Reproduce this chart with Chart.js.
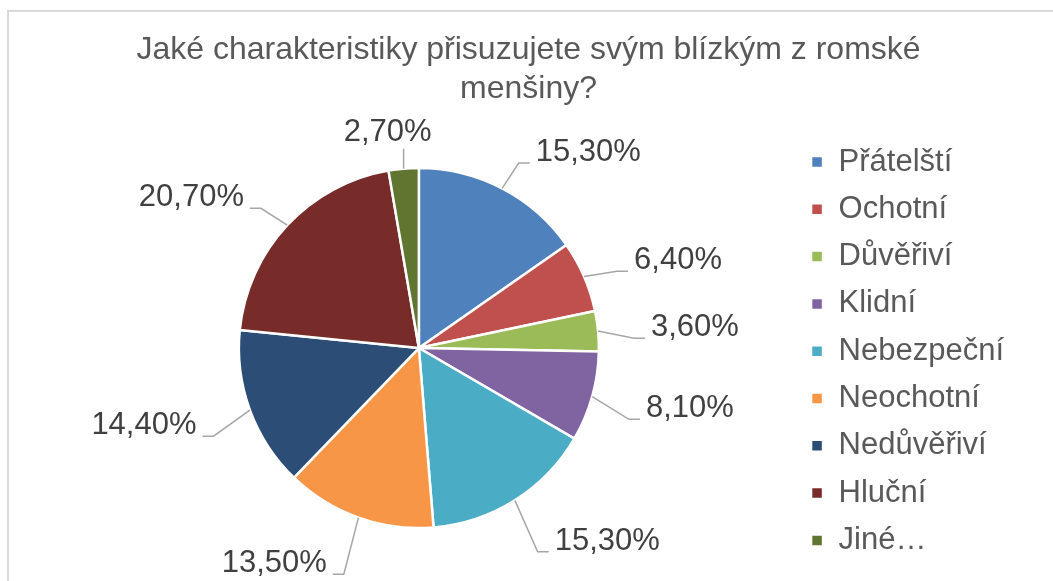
<!DOCTYPE html>
<html>
<head>
<meta charset="utf-8">
<script src="https://cdn.jsdelivr.net/npm/chart.js@4"></script>
<style>
  body { margin: 0; background: #fff; }
  #wrap { position: relative; width: 1053px; height: 581px; overflow: hidden; }
  #frame { position: absolute; left: 7px; top: 10px; width: 1060px; height: 600px;
           border-left: 2px solid #d9d9d9; border-top: 2px solid #d9d9d9; }
  #myChart { position: absolute; left: 0; top: 0; }
</style>
</head>
<body>
<div id="wrap">
  <div id="frame"></div>
  <canvas id="myChart" width="1053" height="581"></canvas>
</div>
<script>
// data
let categories = ['Přátelští', 'Ochotní', 'Důvěřiví', 'Klidní', 'Nebezpeční', 'Neochotní', 'Nedůvěřiví', 'Hluční', 'Jiné…'];
let share_values = [15.3, 6.4, 3.6, 8.1, 15.3, 13.5, 14.4, 20.7, 2.7];   // %
let slice_colors = ['#4F81BD', '#C0504D', '#9BBB59', '#8064A2', '#4BACC6', '#F79646', '#2C4D75', '#772C2A', '#5F7530'];
let title_lines = ['Jaké charakteristiky přisuzujete svým blízkým z romské', 'menšiny?'];

const FONT = "'Liberation Sans', Arial, sans-serif";

// popisky s vodici carou (Excel styl)
const leaderLabels = {
    id: 'leaderLabels',
    afterDatasetsDraw(chart) {
        const ctx = chart.ctx;
        const meta = chart.getDatasetMeta(0);
        const values = chart.data.datasets[0].data;
        ctx.save();
        ctx.font = '31px ' + FONT;
        ctx.fillStyle = '#404040';
        ctx.strokeStyle = '#a6a6a6';
        ctx.lineWidth = 1.5;
        meta.data.forEach((arc, i) => {
            const p = arc.getProps(['x', 'y', 'startAngle', 'endAngle', 'outerRadius'], true);
            const mid = (p.startAngle + p.endAngle) / 2;
            const cos = Math.cos(mid), sin = Math.sin(mid);
            const ex = p.x + cos * p.outerRadius;
            const ey = p.y + sin * p.outerRadius;
            const text = values[i].toFixed(2).replace('.', ',') + '%';
            if (Math.abs(cos) < 0.15) {     // skoro svisle -> popisek nad/pod
                const dir = sin < 0 ? -1 : 1;
                const ly = ey + dir * 20;
                ctx.beginPath();
                ctx.moveTo(ex, ey);
                ctx.lineTo(ex, ly);
                ctx.stroke();
                ctx.textAlign = 'center';
                ctx.textBaseline = 'middle';
                ctx.fillText(text, ex - 16, ly + dir * 16);
            } else {
                const off = 36 + 8 * Math.max(0, sin);
                const ox = p.x + cos * (p.outerRadius + off);
                const oy = p.y + sin * (p.outerRadius + off) + 11 + 5 * sin;
                const side = cos > 0 ? 1 : -1;
                ctx.beginPath();
                ctx.moveTo(ex, ey);
                ctx.lineTo(ox, oy);
                ctx.lineTo(ox + side * 11, oy);
                ctx.stroke();
                ctx.textAlign = side > 0 ? 'left' : 'right';
                ctx.textBaseline = 'middle';
                ctx.fillText(text, ox + side * 17, oy - 10.5);
            }
        });
        ctx.restore();
    }
};

let ctx = document.getElementById('myChart');
new Chart(ctx, {
    type: 'pie',
    data: {
        labels: categories,
        datasets: [{
            data: share_values,
            backgroundColor: slice_colors,
            borderColor: '#ffffff',
            borderWidth: 2.5,
            radius: 180
        }]
    },
    options: {
        responsive: false,
        animation: false,
        layout: {
            padding: { left: 43, right: 39, top: 0, bottom: 0 }
        },
        plugins: {
            title: {
                display: true,
                text: title_lines,
                color: '#595959',
                font: { family: FONT, size: 32, weight: 'normal', lineHeight: 1.22 },
                padding: { top: 30.5, bottom: 6.5 }
            },
            legend: {
                display: true,
                position: 'right',
                align: 'center',
                title: {   // prazdny titulek jen posune polozky dolu
                    display: true,
                    text: '',
                    font: { size: 10, lineHeight: 1 },
                    padding: { top: 111.4, bottom: 0 }
                },
                labels: {
                    color: '#595959',
                    font: { family: FONT, size: 31 },
                    boxWidth: 12,
                    boxHeight: 12,
                    padding: 16.3
                }
            },
            tooltip: { enabled: false }
        }
    },
    plugins: [leaderLabels]
});
</script>
</body>
</html>
